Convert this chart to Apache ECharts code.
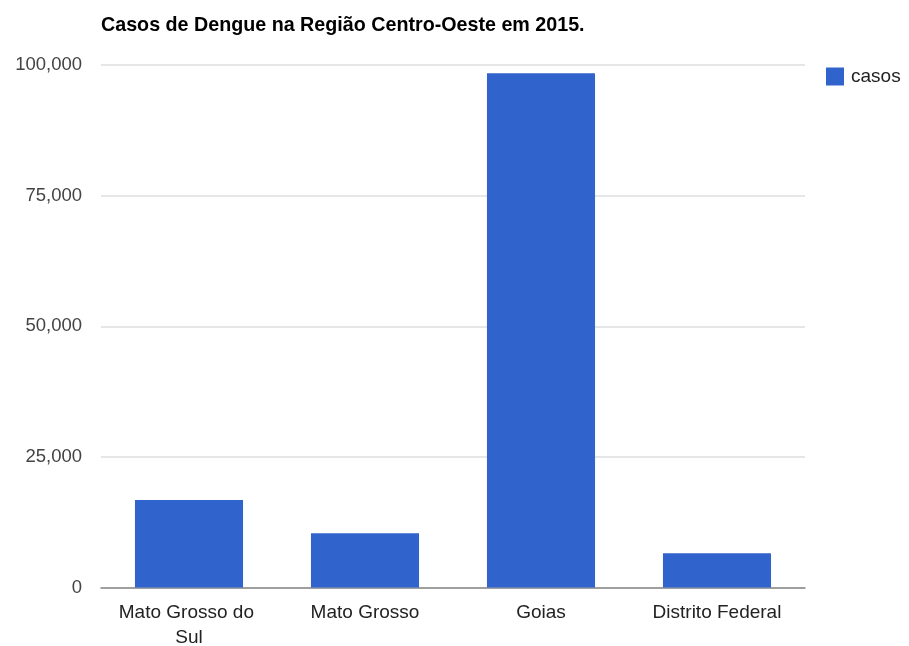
<!DOCTYPE html>
<html>
<head>
<meta charset="utf-8">
<script src="https://cdn.jsdelivr.net/npm/echarts@6/dist/echarts.min.js"></script>
<style>
  html, body { margin: 0; padding: 0; background: #fff; }
  #chart { width: 909px; height: 646px; }
</style>
</head>
<body>
<div id="chart"></div>
<script>
// Dengue cases by state, Centre-West region, 2015
const categories = ['Mato Grosso do Sul', 'Mato Grosso', 'Goias', 'Distrito Federal'];
const casos = [16750, 10370, 98400, 6550];
const yTicks = [0, 25000, 50000, 75000, 100000];

const FONT = '"Liberation Sans", Arial, sans-serif';
const chart = echarts.init(document.getElementById('chart'), null, { renderer: 'canvas' });

chart.setOption({
  animation: false,
  backgroundColor: '#ffffff',
  title: {
    text: 'Casos de Dengue na Região Centro-Oeste em 2015.',
    left: 96,
    top: 11,
    textStyle: { fontFamily: FONT, fontSize: 19.7, fontWeight: 'bold', color: '#000' }
  },
  legend: {
    data: ['casos'],
    left: 821,
    top: 62,
    itemWidth: 18,
    itemHeight: 18,
    itemGap: 6,
    icon: 'rect',
    textStyle: { fontFamily: FONT, fontSize: 19, color: '#222', padding: [0, 0, 0, 2] }
  },
  // fixed plot box; wrapped category labels may extend to the page edge
  grid: {
    left: 101, right: 104, top: 65, bottom: 58.5,
    containLabel: false,
    outerBoundsMode: 'none'
  },
  xAxis: {
    type: 'category',
    data: categories,
    axisTick: { show: false },
    axisLine: { show: true, lineStyle: { color: '#888', width: 1.5 } },
    axisLabel: {
      fontFamily: FONT,
      fontSize: 19,
      color: '#222',
      margin: 13,
      width: 160,
      overflow: 'break',
      lineHeight: 25,
      interval: 0
    }
  },
  yAxis: {
    type: 'value',
    min: yTicks[0],
    max: yTicks[yTicks.length - 1],
    interval: yTicks[1] - yTicks[0],
    axisLine: { show: false },
    axisTick: { show: false },
    splitLine: { lineStyle: { color: '#dedede', width: 1.5 } },
    axisLabel: {
      fontFamily: FONT,
      fontSize: 18.5,
      color: '#444',
      margin: 19,
      formatter: v => v.toLocaleString('en-US')
    }
  },
  series: [{
    name: 'casos',
    type: 'bar',
    data: casos,
    barCategoryGap: '38.6%',
    itemStyle: { color: '#3063cc' }
  }]
});
</script>
</body>
</html>
